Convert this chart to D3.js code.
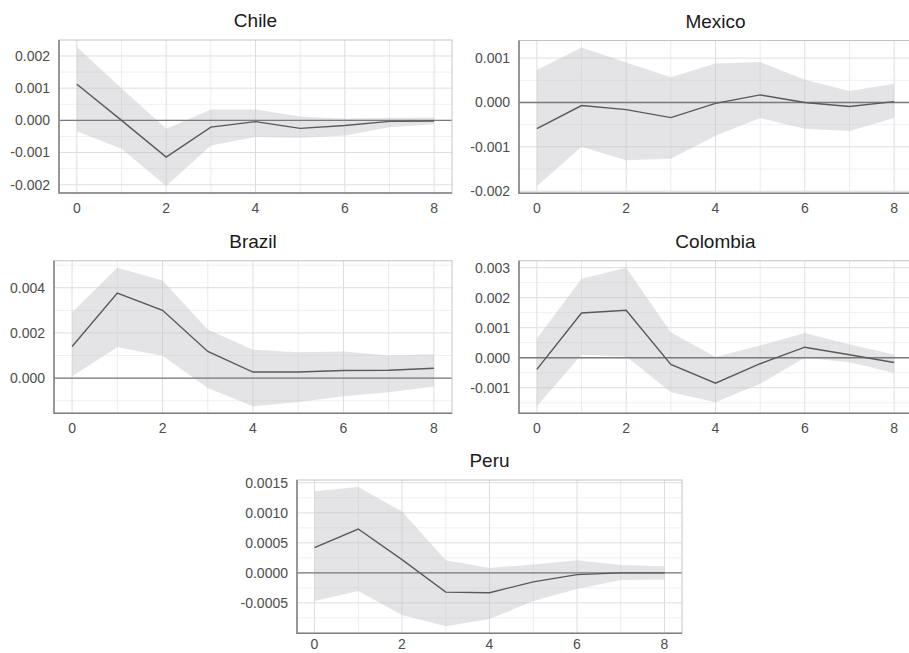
<!DOCTYPE html>
<html>
<head>
<meta charset="utf-8">
<script src="https://cdn.jsdelivr.net/npm/d3@7.9.0/dist/d3.min.js"></script>
<style>
  body { margin: 0; background: #fff; }
  svg { display: block; font-family: "Liberation Sans", Arial, sans-serif; }
</style>
</head>
<body>
<svg id="chart" width="909" height="653"></svg>
<script>
// impulse responses, horizons 0..8
const horizons = [0, 1, 2, 3, 4, 5, 6, 7, 8];
const xTicks = [0, 2, 4, 6, 8];

const chileIrf   = [0.00112, 0.00000, -0.00114, -0.00021, -0.00004, -0.00025, -0.00016, -0.00003, -0.00002];
const chileLower = [-0.00034, -0.00088, -0.00204, -0.00078, -0.00052, -0.00054, -0.00047, -0.00021, -0.00012];
const chileUpper = [0.00228, 0.00100, -0.00026, 0.00034, 0.00034, 0.00012, 0.00005, 0.00008, 0.00009];

const mexicoIrf   = [-0.00059, -0.00007, -0.00016, -0.00034, -0.00002, 0.00017, 0.00000, -0.00009, 0.00002];
const mexicoLower = [-0.00189, -0.00100, -0.00130, -0.00127, -0.00075, -0.00035, -0.00059, -0.00064, -0.00035];
const mexicoUpper = [0.00073, 0.00124, 0.00090, 0.00057, 0.00088, 0.00091, 0.00051, 0.00026, 0.00042];

const brazilIrf   = [0.00140, 0.00376, 0.00300, 0.00118, 0.00027, 0.00027, 0.00034, 0.00035, 0.00044];
const brazilLower = [0.00008, 0.00137, 0.00099, -0.00044, -0.00125, -0.00106, -0.00080, -0.00062, -0.00037];
const brazilUpper = [0.00292, 0.00489, 0.00432, 0.00215, 0.00126, 0.00114, 0.00118, 0.00100, 0.00106];

const colombiaIrf   = [-0.00039, 0.00149, 0.00158, -0.00022, -0.00085, -0.00020, 0.00035, 0.00010, -0.00016];
const colombiaLower = [-0.00162, 0.00010, 0.00004, -0.00115, -0.00148, -0.00087, 0.00000, -0.00015, -0.00051];
const colombiaUpper = [0.00063, 0.00263, 0.00300, 0.00085, 0.00002, 0.00041, 0.00082, 0.00044, 0.00011];

const peruIrf   = [0.00042, 0.00073, 0.00022, -0.00032, -0.00033, -0.00015, -0.00003, 0.00000, 0.00000];
const peruLower = [-0.00047, -0.00030, -0.00070, -0.00089, -0.00077, -0.00047, -0.00027, -0.00012, -0.00011];
const peruUpper = [0.00136, 0.00143, 0.00102, 0.00021, 0.00008, 0.00014, 0.00021, 0.00013, 0.00011];

const chileTicks    = [-0.002, -0.001, 0, 0.001, 0.002];
const mexicoTicks   = [-0.002, -0.001, 0, 0.001];
const brazilTicks   = [0, 0.002, 0.004];
const colombiaTicks = [-0.001, 0, 0.001, 0.002, 0.003];
const peruTicks     = [-0.0005, 0, 0.0005, 0.001, 0.0015];

const panels = [
  { name: 'Chile',    irf: chileIrf,    lo: chileLower,    hi: chileUpper,    ticks: chileTicks,    fmt: '.3f', box: [59, 452, 40, 193] },
  { name: 'Mexico',   irf: mexicoIrf,   lo: mexicoLower,   hi: mexicoUpper,   ticks: mexicoTicks,   fmt: '.3f', box: [519, 912, 40.5, 193.3] },
  { name: 'Brazil',   irf: brazilIrf,   lo: brazilLower,   hi: brazilUpper,   ticks: brazilTicks,   fmt: '.3f', box: [54, 452, 260.7, 413.3] },
  { name: 'Colombia', irf: colombiaIrf, lo: colombiaLower, hi: colombiaUpper, ticks: colombiaTicks, fmt: '.3f', box: [519, 912, 260.7, 413.3] },
  { name: 'Peru',     irf: peruIrf,     lo: peruLower,     hi: peruUpper,     ticks: peruTicks,     fmt: '.4f', box: [297, 682, 480, 633.3] }
];

const svg = d3.select('#chart');

function expand(lo, hi) {
  const pad = (hi - lo) * 0.05;
  return [lo - pad, hi + pad];
}

panels.forEach(p => {
  const [x0, x1, y0, y1] = p.box;
  const x = d3.scaleLinear().domain(expand(0, 8)).range([x0, x1]);
  const y = d3.scaleLinear().domain(expand(d3.min(p.lo), d3.max(p.hi))).range([y1, y0]);
  const [dy0, dy1] = y.domain();

  const g = svg.append('g');

  // minor grid
  const step = p.ticks[1] - p.ticks[0];
  const minorY = d3.range(p.ticks[0] - step / 2, dy1, step).filter(v => v > dy0 && v < dy1);
  g.selectAll('.minorY').data(minorY).join('line')
    .attr('x1', x0).attr('x2', x1)
    .attr('y1', d => y(d)).attr('y2', d => y(d))
    .attr('stroke', '#f0f0f0').attr('stroke-width', 1);
  g.selectAll('.minorX').data([1, 3, 5, 7]).join('line')
    .attr('x1', d => x(d)).attr('x2', d => x(d))
    .attr('y1', y0).attr('y2', y1)
    .attr('stroke', '#ececec').attr('stroke-width', 1);

  // major grid
  g.selectAll('.majorY').data(p.ticks).join('line')
    .attr('x1', x0).attr('x2', x1)
    .attr('y1', d => y(d)).attr('y2', d => y(d))
    .attr('stroke', '#dedede').attr('stroke-width', 1);
  g.selectAll('.majorX').data(xTicks).join('line')
    .attr('x1', d => x(d)).attr('x2', d => x(d))
    .attr('y1', y0).attr('y2', y1)
    .attr('stroke', '#dedede').attr('stroke-width', 1);

  // confidence band
  const rows = horizons.map((h, i) => ({ h, lo: p.lo[i], hi: p.hi[i], v: p.irf[i] }));
  g.append('path')
    .datum(rows)
    .attr('d', d3.area().x(d => x(d.h)).y0(d => y(d.lo)).y1(d => y(d.hi)))
    .attr('fill', '#bfbfc4').attr('fill-opacity', 0.42);

  // zero line
  g.append('line')
    .attr('x1', x0).attr('x2', x1)
    .attr('y1', y(0)).attr('y2', y(0))
    .attr('stroke', '#7a7a7a').attr('stroke-width', 1.4);

  // response
  g.append('path')
    .datum(rows)
    .attr('d', d3.line().x(d => x(d.h)).y(d => y(d.v)))
    .attr('fill', 'none').attr('stroke', '#595959').attr('stroke-width', 1.4);

  // panel border
  g.append('rect')
    .attr('x', x0).attr('y', y0).attr('width', x1 - x0).attr('height', y1 - y0)
    .attr('fill', 'none').attr('stroke', '#c4c4c4').attr('stroke-width', 1);
  g.append('path')
    .attr('d', `M${x0},${y0}V${y1}H${x1}`)
    .attr('fill', 'none').attr('stroke', '#7f7f7f').attr('stroke-width', 1.5);

  // tick labels
  const fmt = d3.format(p.fmt);
  g.selectAll('.ylab').data(p.ticks).join('text')
    .attr('x', x0 - 9).attr('y', d => y(d))
    .attr('dy', '0.35em').attr('text-anchor', 'end')
    .attr('font-size', 14).attr('fill', '#4d4d4d')
    .text(d => fmt(d).replace('\u2212', '-'));
  g.selectAll('.xlab').data(xTicks).join('text')
    .attr('x', d => x(d)).attr('y', Math.min(y1 + 20, 649))
    .attr('text-anchor', 'middle')
    .attr('font-size', 14).attr('fill', '#4d4d4d')
    .text(d => d);

  // title
  g.append('text')
    .attr('x', (x0 + x1) / 2)
    .attr('y', y0 - 13)
    .attr('text-anchor', 'middle')
    .attr('font-size', 19).attr('fill', '#1a1a1a')
    .text(p.name);
});
</script>
</body>
</html>
